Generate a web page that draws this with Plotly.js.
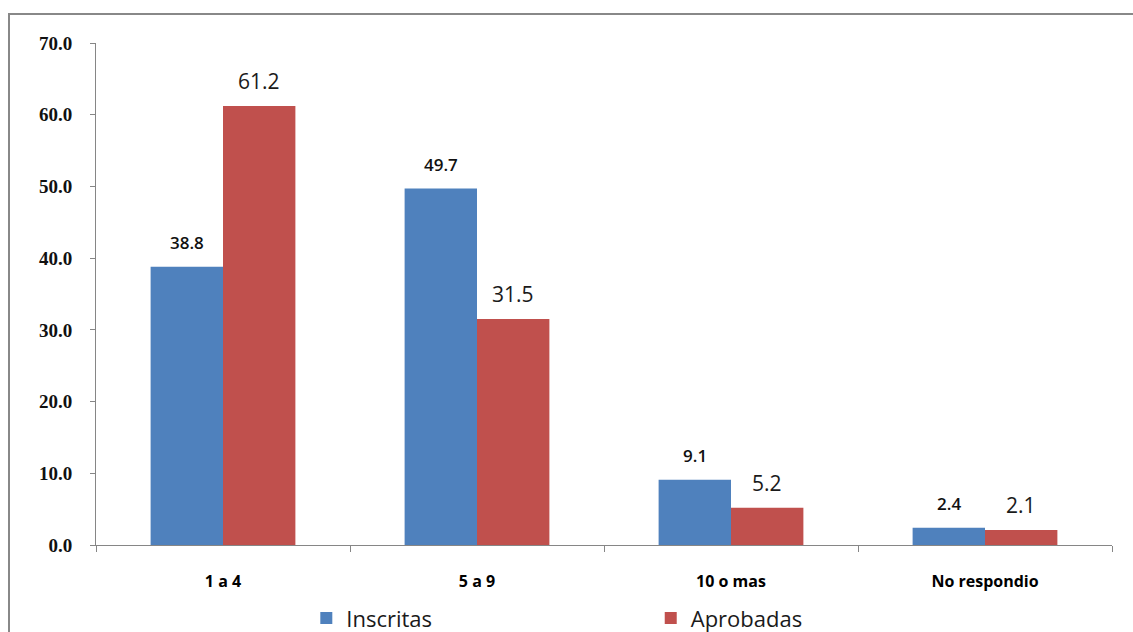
<!DOCTYPE html>
<html>
<head>
<meta charset="utf-8">
<script src="https://cdn.plot.ly/plotly-3.0.1.min.js"></script>
<style>
  html, body { margin: 0; padding: 0; background: #ffffff; overflow: hidden; }
  #frame { position: absolute; left: 8px; top: 13px; width: 1200px; height: 700px; border: 2px solid #888888; box-sizing: border-box; }
  #chart { position: absolute; left: 0; top: 0; width: 1133px; height: 632px; }
</style>
</head>
<body>
<div id="frame"></div>
<div id="chart"></div>
<script>
// ---- data ----
const categories = ["1 a 4", "5 a 9", "10 o mas", "No respondio"];
const inscritas = [38.8, 49.7, 9.1, 2.4];
const aprobadas = [61.2, 31.5, 5.2, 2.1];
const seriesNames = ["Inscritas", "Aprobadas"];
const yTicks = [0, 10, 20, 30, 40, 50, 60, 70];

const blue = "#4F81BD";
const red = "#C0504D";
const bargap = 0.43;
const off = (1 - bargap) / 4;

const traces = [
  {
    type: "bar", name: seriesNames[0], x: categories.map((c, i) => i), y: inscritas,
    marker: { color: blue }, legend: "legend", hoverinfo: "none"
  },
  {
    type: "bar", name: seriesNames[1], x: categories.map((c, i) => i), y: aprobadas,
    marker: { color: red }, legend: "legend2", hoverinfo: "none"
  }
];

const annotations = [];
inscritas.forEach((v, i) => annotations.push({
  x: i - off, y: v, xref: "x", yref: "y", text: v.toFixed(1), showarrow: false,
  yanchor: "bottom", yshift: 11,
  font: { family: "Open Sans, sans-serif", size: 17, color: "#111111", weight: 600 }
}));
aprobadas.forEach((v, i) => annotations.push({
  x: i + off, y: v, xref: "x", yref: "y", text: v.toFixed(1), showarrow: false,
  yanchor: "bottom", yshift: 9,
  font: { family: "Open Sans, sans-serif", size: 21, color: "#1a1a1a" }
}));

const layout = {
  width: 1133, height: 632,
  margin: { l: 96, r: 21, t: 43, b: 87, autoexpand: false },
  paper_bgcolor: "rgba(0,0,0,0)",
  plot_bgcolor: "rgba(0,0,0,0)",
  barmode: "group",
  bargap: bargap,
  bargroupgap: 0,
  showlegend: true,
  xaxis: {
    type: "linear",
    range: [-0.5, categories.length - 0.5],
    tickmode: "array",
    tickvals: categories.map((c, i) => i),
    ticktext: categories,
    ticks: "",
    showline: true, linecolor: "#868686", linewidth: 1,
    showgrid: false, zeroline: false,
    ticklabelstandoff: 22,
    tickfont: { family: "Open Sans, sans-serif", size: 16, color: "#000000", weight: "bold" }
  },
  xaxis2: {
    overlaying: "x", anchor: "y", side: "bottom",
    range: [-0.5, categories.length - 0.5],
    tickmode: "array",
    tickvals: categories.map((c, i) => i - 0.5).concat([categories.length - 0.5]),
    ticks: "outside", ticklen: 6, tickcolor: "#868686", showticklabels: false,
    showline: false, showgrid: false, zeroline: false
  },
  yaxis: {
    range: [0, 70],
    tickmode: "array",
    tickvals: yTicks,
    ticktext: yTicks.map(v => v.toFixed(1)),
    ticks: "outside", ticklen: 5, tickcolor: "#868686",
    showline: true, linecolor: "#868686", linewidth: 1,
    showgrid: false, zeroline: false,
    ticklabelstandoff: 14,
    tickfont: { family: "Liberation Serif, serif", size: 19, color: "#111111", weight: "bold" }
  },
  legend: {
    orientation: "h", x: 0.207, xanchor: "left", y: -0.146, yanchor: "middle",
    bgcolor: "rgba(0,0,0,0)",
    font: { family: "Open Sans, sans-serif", size: 22, color: "#1a1a1a" }
  },
  legend2: {
    orientation: "h", x: 0.546, xanchor: "left", y: -0.146, yanchor: "middle",
    bgcolor: "rgba(0,0,0,0)",
    font: { family: "Open Sans, sans-serif", size: 22, color: "#1a1a1a" }
  },
  annotations: annotations
};

// helper trace so the boundary ticks on xaxis2 are drawn
traces.push({ type: "scatter", x: [0], y: [0], xaxis: "x2", mode: "none", showlegend: false, hoverinfo: "none" });

Plotly.newPlot("chart", traces, layout, { staticPlot: true, displayModeBar: false });
</script>
</body>
</html>
